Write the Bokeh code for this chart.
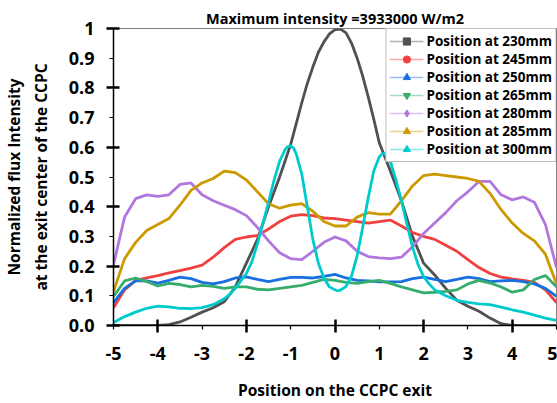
from bokeh.plotting import figure
from bokeh.models import Range1d, FixedTicker, Legend, LegendItem
from bokeh.embed import file_html
from bokeh.resources import INLINE

# ---------------- data ----------------
x = [-5.0, -4.75, -4.5, -4.25, -4.0, -3.75, -3.5, -3.25, -3.0, -2.75, -2.5,
     -2.25, -2.0, -1.75, -1.5, -1.25, -1.0, -0.75, -0.5, -0.25, 0.0,
     0.25, 0.5, 0.75, 1.0, 1.25, 1.5, 1.75, 2.0, 2.25, 2.5,
     2.75, 3.0, 3.25, 3.5, 3.75, 4.0, 4.25, 4.5, 4.75, 5.0]

x_230 = [-5.0, -4.75, -4.5, -4.25, -4.0, -3.75, -3.5, -3.25, -3.0, -2.75, -2.5,
         -2.25, -2.0, -1.75, -1.5, -1.25, -1.0, -0.875, -0.75, -0.625, -0.5,
         -0.375, -0.25, -0.125, 0.0, 0.125, 0.25, 0.375, 0.5, 0.625, 0.75,
         0.875, 1.0, 1.25, 1.5, 1.75, 2.0, 2.25, 2.5,
         2.75, 3.0, 3.25, 3.5, 3.75, 4.0, 4.25, 4.5, 4.75, 5.0]
pos_230 = [0.0, 0.0, 0.0, 0.0, 0.0, 0.003, 0.012, 0.028, 0.045, 0.06, 0.08,
           0.13, 0.21, 0.29, 0.40, 0.50, 0.61, 0.68, 0.75, 0.815, 0.87,
           0.92, 0.955, 0.982, 0.996, 0.998, 0.985, 0.95, 0.90, 0.84, 0.77,
           0.695, 0.615, 0.52, 0.42, 0.30, 0.21, 0.17, 0.125,
           0.085, 0.065, 0.048, 0.025, 0.006, 0.0, 0.0, 0.0, 0.0, 0.0]

pos_245 = [0.06, 0.12, 0.152, 0.16, 0.168, 0.177, 0.185, 0.193, 0.203, 0.23, 0.262,
           0.29, 0.298, 0.303, 0.325, 0.35, 0.368, 0.373, 0.37, 0.362, 0.36,
           0.355, 0.35, 0.345, 0.35, 0.355, 0.335, 0.313, 0.30, 0.29, 0.27,
           0.25, 0.222, 0.195, 0.175, 0.163, 0.157, 0.152, 0.145, 0.12, 0.077]

pos_250 = [0.077, 0.125, 0.15, 0.15, 0.143, 0.152, 0.163, 0.158, 0.145, 0.14, 0.148,
           0.16, 0.164, 0.155, 0.148, 0.155, 0.162, 0.162, 0.16, 0.165, 0.172,
           0.16, 0.152, 0.15, 0.147, 0.147, 0.148, 0.158, 0.163, 0.155, 0.148,
           0.155, 0.163, 0.158, 0.148, 0.15, 0.152, 0.148, 0.14, 0.125, 0.098]

pos_265 = [0.098, 0.15, 0.16, 0.148, 0.133, 0.142, 0.138, 0.13, 0.135, 0.132, 0.125,
           0.13, 0.13, 0.122, 0.12, 0.125, 0.13, 0.135, 0.145, 0.155, 0.152,
           0.145, 0.142, 0.148, 0.152, 0.142, 0.13, 0.12, 0.11, 0.112, 0.115,
           0.12, 0.14, 0.152, 0.143, 0.13, 0.112, 0.12, 0.155, 0.168, 0.13]

pos_280 = [0.205, 0.365, 0.427, 0.44, 0.435, 0.44, 0.475, 0.48, 0.44, 0.42, 0.405,
           0.39, 0.37, 0.33, 0.285, 0.245, 0.225, 0.222, 0.25, 0.28, 0.298,
           0.285, 0.25, 0.232, 0.228, 0.225, 0.23, 0.265, 0.31, 0.345, 0.38,
           0.42, 0.45, 0.485, 0.485, 0.44, 0.423, 0.433, 0.415, 0.34, 0.195]

pos_285 = [0.114, 0.225, 0.28, 0.32, 0.34, 0.36, 0.405, 0.455, 0.48, 0.495, 0.52,
           0.515, 0.49, 0.45, 0.41, 0.395, 0.405, 0.41, 0.385, 0.35, 0.335,
           0.335, 0.365, 0.38, 0.375, 0.375, 0.42, 0.47, 0.505, 0.51, 0.505,
           0.50, 0.495, 0.485, 0.445, 0.39, 0.345, 0.31, 0.285, 0.24, 0.14]

x_300 = [-5.0, -4.75, -4.5, -4.25, -4.0, -3.75, -3.5, -3.25, -3.0, -2.75,
         -2.5, -2.375, -2.25, -2.125, -2.0, -1.875, -1.75, -1.625, -1.5, -1.375,
         -1.25, -1.125, -1.0625, -1.0, -0.9375, -0.875, -0.75, -0.625, -0.5, -0.375,
         -0.25, -0.125, 0.0, 0.0625, 0.125, 0.25, 0.375, 0.5, 0.625, 0.75,
         0.875, 1.0, 1.0625, 1.125, 1.1875, 1.25, 1.375, 1.5, 1.625, 1.75,
         1.875, 2.0, 2.125, 2.25, 2.375, 2.5,
         2.75, 3.0, 3.25, 3.5, 3.75, 4.0, 4.25, 4.5, 4.75, 5.0]
pos_300 = [0.01, 0.03, 0.045, 0.058, 0.065, 0.063, 0.058, 0.057, 0.06, 0.07,
           0.09, 0.105, 0.125, 0.15, 0.175, 0.215, 0.275, 0.345, 0.415, 0.49,
           0.553, 0.593, 0.603, 0.605, 0.598, 0.578, 0.51, 0.40, 0.29, 0.21,
           0.16, 0.13, 0.12, 0.117, 0.119, 0.132, 0.167, 0.235, 0.33, 0.43,
           0.52, 0.568, 0.578, 0.579, 0.572, 0.553, 0.49, 0.42, 0.34, 0.265,
           0.205, 0.165, 0.14, 0.12, 0.11, 0.10,
           0.085, 0.078, 0.073, 0.07, 0.062, 0.053, 0.045, 0.035, 0.025, 0.017]

labels = ["Position at 230mm", "Position at 245mm", "Position at 250mm",
          "Position at 265mm", "Position at 280mm", "Position at 285mm",
          "Position at 300mm"]
colors = ["#515151", "#F14040", "#1A6FDF", "#37AD6B", "#B177DE", "#CC9900", "#00CBCC"]
markers = ["square", "circle", "triangle", "inverted_triangle", "diamond",
           "triangle", "triangle"]
angles = [0, 0, 0, 0, 0, 1.5708, -1.5708]

xs = [x_230, x, x, x, x, x, x_300]
ys = [pos_230, pos_245, pos_250, pos_265, pos_280, pos_285, pos_300]

y_ticks = [0.0, 0.1, 0.2, 0.3, 0.4, 0.5, 0.6, 0.7, 0.8, 0.9, 1.0]
y_major = [0.0, 0.2, 0.4, 0.6, 0.8, 1.0]
x_ticks = [-5, -4, -3, -2, -1, 0, 1, 2, 3, 4, 5]
x_major = [-4, -2, 0, 2, 4]
x_tick_text = ["-5", "-4", "-3", "-2", "-1", "0", "1", "2", "3", "4", "5"]

FONT = "Open Sans"

p = figure(width=557, height=403, output_backend="svg", toolbar_location=None,
           x_range=Range1d(-5, 5), y_range=Range1d(0, 1),
           title="Maximum intensity =3933000 W/m2")
p.min_border_left = 110
p.min_border_right = 1
p.min_border_top = 28
p.min_border_bottom = 66
p.background_fill_color = "white"
p.border_fill_color = "white"
p.outline_line_color = "#808080"
p.outline_line_width = 1
p.xgrid.visible = False
p.ygrid.visible = False

p.title.align = "center"
p.title.text_font = FONT
p.title.text_font_style = "bold"
p.title.text_font_size = "14.5px"
p.title.text_color = "black"
p.title.standoff = 2

legend_items = []
for xx, yy, c, m, a, lab in zip(xs, ys, colors, markers, angles, labels):
    faint = p.line(xx, yy, line_color=c, line_width=1.5, line_alpha=0.45)
    p.line(xx, yy, line_color=c, line_width=2.8, line_join="round")
    mk = p.scatter(xx, yy, marker=m, angle=a, size=0, fill_color=c, line_color=c)
    legend_items.append(LegendItem(label=lab, renderers=[faint, mk]))

legend = Legend(items=legend_items, location="top_right")
legend.margin = 0
legend.padding = 3
legend.spacing = 0
legend.glyph_width = 34
legend.glyph_height = 18
legend.label_height = 18
legend.label_standoff = 3
legend.label_text_font = FONT
legend.label_text_font_style = "bold"
legend.label_text_font_size = "13.5px"
legend.label_text_color = "black"
legend.border_line_color = "#808080"
legend.border_line_width = 1
legend.background_fill_color = "white"
legend.background_fill_alpha = 1
p.add_layout(legend)

for ax in (p.xaxis[0], p.yaxis[0]):
    ax.axis_line_color = "black"
    ax.axis_line_width = 1.5
    ax.major_tick_line_color = "black"
    ax.major_tick_line_width = 1.2
    ax.major_tick_in = 0
    ax.major_tick_out = 4
    ax.minor_tick_line_color = "black"
    ax.minor_tick_line_width = 2.5
    ax.minor_tick_in = 6
    ax.minor_tick_out = 7
    ax.major_label_text_font = FONT
    ax.major_label_text_font_style = "bold"
    ax.major_label_text_font_size = "18px"
    ax.major_label_text_color = "black"
    ax.axis_label_text_font = FONT
    ax.axis_label_text_font_style = "bold"
    ax.axis_label_text_font_size = "15.5px"
    ax.axis_label_text_color = "black"

p.yaxis[0].ticker = FixedTicker(ticks=y_ticks, minor_ticks=y_major)
p.yaxis[0].major_label_overrides = {0.0: "0.0", 1.0: "1"}
p.yaxis[0].major_label_standoff = 12
p.yaxis[0].axis_label = "Normalized flux Intensity\nat the exit center of the CCPC"
p.yaxis[0].axis_label_standoff = 14

p.xaxis[0].ticker = FixedTicker(ticks=x_ticks, minor_ticks=x_major)
p.xaxis[0].major_label_overrides = dict(zip(x_ticks, x_tick_text))
p.xaxis[0].major_label_standoff = 14
p.xaxis[0].axis_label = "Position on the CCPC exit"
p.xaxis[0].axis_label_standoff = 16

open("out.html", "w").write(file_html(p, INLINE))
